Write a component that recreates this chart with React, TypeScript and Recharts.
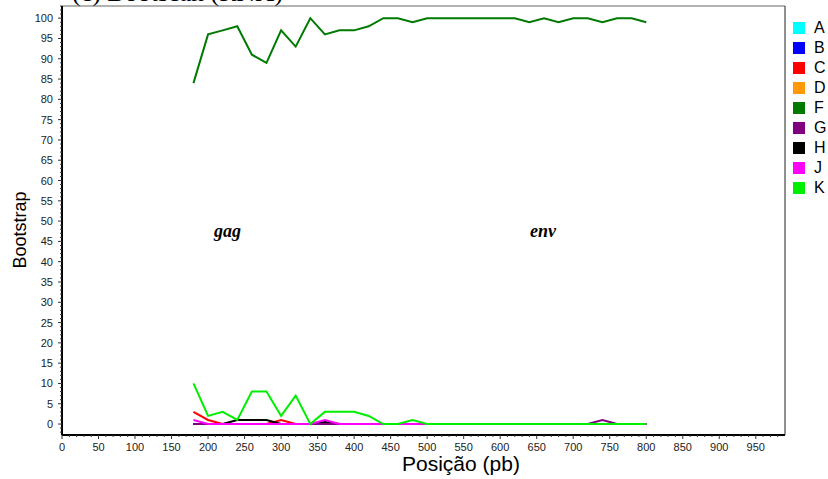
import { LineChart, Line, XAxis, YAxis, ReferenceLine } from 'recharts'

// posição (pb) dos pontos da janela deslizante
const POS = [180, 200, 220, 240, 260, 280, 300, 320, 340, 360, 380, 400, 420, 440, 460, 480,
  500, 520, 540, 560, 580, 600, 620, 640, 660, 680, 700, 720, 740, 760, 780, 800]

const A = [0, 0, 0, 0, 0, 0, 0, 0, 0, 0, 0, 0, 0, 0, 0, 0, 0, 0, 0, 0, 0, 0, 0, 0, 0, 0, 0, 0, 0, 0, 0, 0]
const B = [0, 0, 0, 0, 0, 0, 0, 0, 0, 0, 0, 0, 0, 0, 0, 0, 0, 0, 0, 0, 0, 0, 0, 0, 0, 0, 0, 0, 0, 0, 0, 0]
const Cc = [3, 1, 0, 0, 0, 0, 1, 0, 0, 0, 0, 0, 0, 0, 0, 0, 0, 0, 0, 0, 0, 0, 0, 0, 0, 0, 0, 0, 0, 0, 0, 0]
const D = [0, 0, 0, 0, 0, 0, 0, 0, 0, 0, 0, 0, 0, 0, 0, 0, 0, 0, 0, 0, 0, 0, 0, 0, 0, 0, 0, 0, 0, 0, 0, 0]
const F = [84, 96, 97, 98, 91, 89, 97, 93, 100, 96, 97, 97, 98, 100, 100, 99,
  100, 100, 100, 100, 100, 100, 100, 99, 100, 99, 100, 100, 99, 100, 100, 99]
const G = [0, 0, 0, 0, 0, 0, 0, 0, 0, 0, 0, 0, 0, 0, 0, 0, 0, 0, 0, 0, 0, 0, 0, 0, 0, 0, 0, 0, 1, 0, 0, 0]
const H = [0, 0, 0, 1, 1, 1, 0, 0, 0, 0.5, 0, 0, 0, 0, 0, 0, 0, 0, 0, 0, 0, 0, 0, 0, 0, 0, 0, 0, 0, 0, 0, 0]
const J = [1, 0, 0, 0, 0, 0, 0, 0, 0, 1, 0, 0, 0, 0, 0, 0, 0, 0, 0, 0, 0, 0, 0, 0, 0, 0, 0, 0, 0, 0, 0, 0]
const K = [10, 2, 3, 1, 8, 8, 2, 7, 0, 3, 3, 3, 2, 0, 0, 1, 0, 0, 0, 0, 0, 0, 0, 0, 0, 0, 0, 0, 0, 0, 0, 0]

const SUBTIPOS = [
  { key: 'A', cor: '#00FFFF', vals: A },
  { key: 'B', cor: '#0000FF', vals: B },
  { key: 'C', cor: '#FF0000', vals: Cc },
  { key: 'D', cor: '#FF9900', vals: D },
  { key: 'F', cor: '#007A00', vals: F },
  { key: 'G', cor: '#800080', vals: G },
  { key: 'H', cor: '#000000', vals: H },
  { key: 'J', cor: '#FF00FF', vals: J },
  { key: 'K', cor: '#00EE00', vals: K },
]
// ordem de desenho (H por baixo de G)
const ORDEM = ['A', 'B', 'C', 'D', 'F', 'H', 'G', 'J', 'K']

const X_LABELS = [0, 50, 100, 150, 200, 250, 300, 350, 400, 450, 500, 550, 600, 650, 700, 750, 800, 850, 900, 950]
const Y_LABELS = [0, 5, 10, 15, 20, 25, 30, 35, 40, 45, 50, 55, 60, 65, 70, 75, 80, 85, 90, 95, 100]
const X_MINOR = Array.from({ length: 99 }, (_, i) => i * 10)
const Y_MINOR = Array.from({ length: 106 }, (_, i) => i - 2)

const data = POS.map((p, i) => {
  const row: any = { pos: p }
  for (const s of SUBTIPOS) row[s.key] = s.vals[i]
  return row
})

const FONT = 'Arial, "Liberation Sans", Helvetica, sans-serif'
const SERIF = '"Liberation Serif", "Times New Roman", serif'

function TickX({ x, y, payload }: any) {
  const v = payload.value
  const major = X_LABELS.includes(v)
  return (
    <g>
      <line x1={x} x2={x} y1={y} y2={y + (major ? 4 : 2)} stroke="#333" strokeWidth={1} />
      {major && (
        <text x={x} y={y + 16} textAnchor="middle" fontSize={11} fill="#222" fontFamily={FONT}>{v}</text>
      )}
    </g>
  )
}

function TickY({ x, y, payload }: any) {
  const v = payload.value
  const major = Y_LABELS.includes(v)
  return (
    <g>
      <line x1={x} x2={x - (major ? 4 : 2)} y1={y} y2={y} stroke="#333" strokeWidth={1} />
      {major && (
        <text x={x - 9} y={y + 4} textAnchor="end" fontSize={11} fill="#222" fontFamily={FONT}>{v}</text>
      )}
    </g>
  )
}

export default function App() {
  return (
    <div style={{ position: 'absolute', left: 0, top: 0, width: 828, height: 479, background: 'white', overflow: 'hidden', fontFamily: FONT }}>
      <div style={{ position: 'absolute', left: 72, top: -22, fontFamily: SERIF, fontSize: 26, color: '#000', whiteSpace: 'nowrap' }}>
        (c) Bootscan (RNA)
      </div>
      <LineChart width={828} height={479} data={data} margin={{ top: 6, right: 43, bottom: 0, left: 12 }}>
        <XAxis
          dataKey="pos"
          type="number"
          domain={[0, 990]}
          ticks={X_MINOR}
          interval={0}
          allowDataOverflow
          tickLine={false}
          tickSize={0}
          tickMargin={0}
          height={44}
          axisLine={{ stroke: '#000', strokeWidth: 2 }}
          tick={<TickX />}
        />
        <YAxis
          type="number"
          domain={[-2.7, 103]}
          ticks={Y_MINOR}
          interval={0}
          allowDataOverflow
          tickLine={false}
          tickSize={0}
          tickMargin={0}
          width={50}
          axisLine={{ stroke: '#000', strokeWidth: 2 }}
          tick={<TickY />}
        />
        <ReferenceLine y={103} stroke="#666" strokeWidth={1} />
        <ReferenceLine x={990} stroke="#222" strokeWidth={1} />
        {ORDEM.map((k) => {
          const s = SUBTIPOS.find((t) => t.key === k)!
          return (
            <Line
              key={k}
              type="linear"
              dataKey={k}
              stroke={s.cor}
              strokeWidth={2}
              dot={false}
              isAnimationActive={false}
            />
          )
        })}
      </LineChart>
      <div style={{ position: 'absolute', left: 214, top: 221, fontFamily: SERIF, fontSize: 18, fontWeight: 'bold', fontStyle: 'italic' }}>gag</div>
      <div style={{ position: 'absolute', left: 530, top: 221, fontFamily: SERIF, fontSize: 18, fontWeight: 'bold', fontStyle: 'italic' }}>env</div>
      <div style={{ position: 'absolute', left: 0, top: 230, width: 40, height: 0 }}>
        <div style={{ position: 'absolute', left: 20, top: 0, transform: 'translate(-50%, -50%) rotate(-90deg)', fontSize: 18, whiteSpace: 'nowrap' }}>Bootstrap</div>
      </div>
      <div style={{ position: 'absolute', left: 402, top: 452, fontSize: 21, whiteSpace: 'nowrap' }}>Posição (pb)</div>
      <div style={{ position: 'absolute', left: 793, top: 18 }}>
        {SUBTIPOS.map((s) => (
          <div key={s.key} style={{ display: 'flex', alignItems: 'center', height: 20 }}>
            <div style={{ width: 12, height: 12, background: s.cor, marginRight: 9 }} />
            <span style={{ fontSize: 16, color: '#000', lineHeight: '16px' }}>{s.key}</span>
          </div>
        ))}
      </div>
    </div>
  )
}
